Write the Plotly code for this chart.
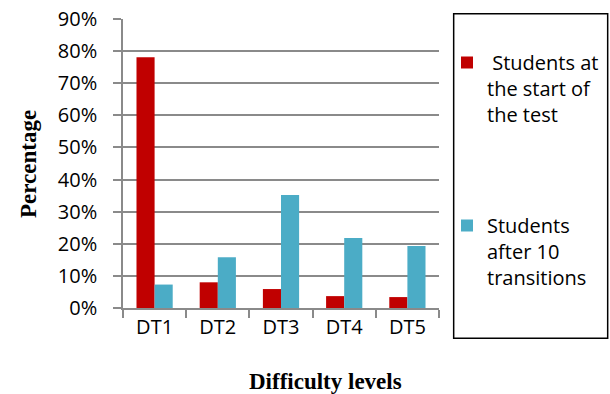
import plotly.graph_objects as go

categories = ["DT1", "DT2", "DT3", "DT4", "DT5"]
start_vals = [0.781, 0.080, 0.059, 0.037, 0.034]
after_vals = [0.073, 0.158, 0.352, 0.218, 0.193]
series_names = [" Students at<br>the start of<br>the test", "Students<br>after 10<br>transitions"]
y_ticks = [0, 0.1, 0.2, 0.3, 0.4, 0.5, 0.6, 0.7, 0.8, 0.9]

W, H = 610, 394
L, R, T, B = 122.7, 439.3, 19.3, 307.7

def px_x(x):
    return (x - L) / (R - L)

def px_y(y):
    return (B - y) / (B - T)

fig = go.Figure()
fig.add_trace(go.Bar(x=categories, y=start_vals, name=series_names[0],
                     marker=dict(color="#C00000", line=dict(width=0)), legend="legend"))
fig.add_trace(go.Bar(x=categories, y=after_vals, name=series_names[1],
                     marker=dict(color="#4BACC6", line=dict(width=0)), legend="legend2"))

grid = "#8a8a8a"
font_main = dict(family="Open Sans", size=20, color="#000000")
title_font = dict(family="Liberation Serif", size=23, color="#000000")
leg_common = dict(font=font_main, bgcolor="rgba(0,0,0,0)", borderwidth=0,
                  valign="top", xref="container", yref="container",
                  xanchor="left", yanchor="top", itemwidth=30)

fig.update_layout(
    width=W, height=H,
    margin=dict(l=L, r=W - R, t=T, b=H - B, autoexpand=False),
    paper_bgcolor="white", plot_bgcolor="white",
    barmode="group", bargap=0.427, bargroupgap=0,
    font=font_main,
    showlegend=True,
    legend=dict(x=447 / W, y=1 - 43 / H, **leg_common),
    legend2=dict(x=447 / W, y=1 - 206 / H, **leg_common),
    xaxis=dict(
        type="category", tickson="boundaries", ticks="outside", ticklen=8,
        tickwidth=1.5, tickcolor=grid, showline=True, linecolor=grid, linewidth=1.5,
        showgrid=False, tickfont=font_main, automargin=False,
    ),
    yaxis=dict(
        range=[0, 0.9], tickvals=y_ticks, tickformat=".0%", ticks="outside",
        ticklen=8, tickwidth=1.5, tickcolor=grid, showline=True, linecolor=grid,
        linewidth=1.5, showgrid=True, gridcolor=grid, gridwidth=1.5,
        zeroline=False, tickfont=font_main, ticklabelstandoff=12, automargin=False,
    ),
    shapes=[dict(type="rect", xref="paper", yref="paper",
                 x0=px_x(454), x1=px_x(608.3), y0=px_y(338), y1=px_y(14),
                 line=dict(color="#000000", width=1.5), fillcolor="rgba(0,0,0,0)")],
    annotations=[
        dict(text="<b>Difficulty levels</b>", xref="paper", yref="paper",
             x=px_x(326), y=px_y(381), xanchor="center", yanchor="middle",
             showarrow=False, font=title_font),
        dict(text="<b>Percentage</b>", xref="paper", yref="paper",
             x=px_x(28), y=px_y(163.5), xanchor="center", yanchor="middle",
             textangle=-90, showarrow=False, font=title_font),
    ],
)

fig.write_html("out.html", config={"displayModeBar": False},
               post_script="document.body.style.margin='0';document.body.style.padding='0';")
